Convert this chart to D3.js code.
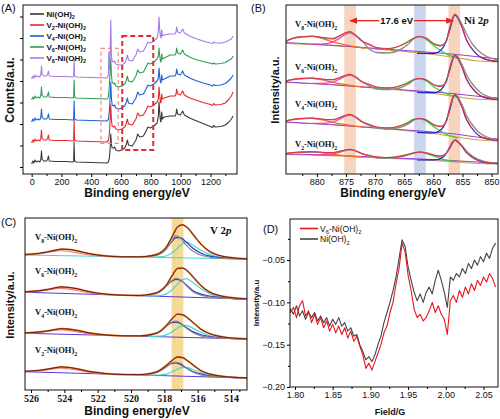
<!DOCTYPE html>
<html><head><meta charset="utf-8">
<script src="https://cdn.jsdelivr.net/npm/d3@7"></script>
<style>body{margin:0;background:#fff}svg{display:block}</style>
</head><body>
<svg id="c" width="500" height="419"></svg>
<script>
// ================= DATA =================
// Panel A: XPS survey (offset spectra)
const gridA = [0,8,15,22,30,42,55,62,66,70,80,100,108,113,118,160,230,278,282,285,288,300,400,505,515,518,522,527,531,535,540,550,557,565,585,605,625,636,642,650,675,700,712,725,750,768,780,795,820,842,850,855,859,864,868,873,877,890,930,962,969,973,980,998,1006,1013,1025,1060,1100,1150,1200,1214,1222,1232,1270,1300,1320,1340,1352];
const seriesA = ["Ni(OH)2","V2-Ni(OH)2","V4-Ni(OH)2","V6-Ni(OH)2","V8-Ni(OH)2"];
const offsetsA = [12, 33, 54, 76, 97];
const hNi = [-2,1,-1,2,0, 1,0,3,11,3, 1,1,3,6,1, 0.5,0.5,0,1,20, 1,0,-0.5,-1,0, 2,4,14,28,18, 14,14,15,12,11, 12,14,18,22,17, 16,22,28,25,26, 31,35,34,36,39, 46,60,50,41,40, 50,43,45,46,46, 48,53,48,47,49, 51,47,44,41.5,38.5, 35.5,34.5,36.5,35,35.5, 37,39.5,43,46];
const hV2 = [-2,1,-1,2,0, 1,0,3,11,3, 1,1,3,6,1, 0.5,0.5,0,1,21, 1,0,-0.5,-1,0.5, 3,8,22,36,22, 15,14,15,12,11, 12,14,18,22,17, 16,22,28,25,26, 31,35,34,36,39, 42,54,46,39,38, 47,42,43,45,45, 47,52,47,46,48, 50,46,43,41,38.5, 36.5,35.5,37.5,36,36.5, 38,41,45,49];
const hV4 = [-2,1,-1,2,0, 1,0,3,11,3, 1,1,3,6,1, 0.5,0.5,0,1,19, 1,0,-0.5,-1,0.5, 4,10,24,38,22, 15,14,15,12,11, 12,14,18,22,17, 16,22,28,25,26, 31,35,34,36,39, 42,52,44,38,37, 45,40,41,44,44, 46,51,46,45,47, 49,45,42,39.5,37, 35,34,35.5,34.5,35, 36.5,39,42,45];
const hV6 = [-2,1,-1,2,0, 1,0,3,11,3, 1,1,3,6,1, 0.5,0.5,0,1,18, 1,0,-0.5,-1,1, 6,14,28,40,24, 16,14,15,12,11, 12,14,18,22,17, 16,22,28,25,26, 31,35,34,36,39, 42,50,43,37,36, 44,39,40,43,43, 45,50,45,44,46, 48,44,41,38.5,36.5, 34.7,34,35,34,34.5, 35.5,37.5,39,42];
const hV8 = [-2,1,-1,2,0, 1,0,3,11,3, 1,1,3,6,1, 0.5,0.5,0,1,18, 1,0,-0.5,-1,2, 25,8,24,57,22, 16,15,16,13,12, 12,14,18,22,17, 16,22,28,25,26, 31,35,34,36,39, 46,60,48,40,39, 47,41,42,43,43, 45,50,45,44,46, 48,44,41,38.5,36, 34,33.5,35,34,34, 35,36.5,38,41];
const heightsA = [hNi, hV2, hV4, hV6, hV8];
const colorsA = ["#3a3a3a","#e42b2b","#1f5fd8","#2f9e50","#a67be6"];
const xTicksA = [0,200,400,600,800,1000,1200];
const xMinorA = [100,300,500,700,900,1100,1300];
const yTicksA = [7,28.5,50,71.5,93,114.5,136,157.5];
const boxSmallA = [465, 581, 30.7, 125.7];   // eV0, eV1, v0, v1
const boxBigA = [608, 816, 24, 138];

// Panel B: Ni 2p
const labelsB = ["8","6","4","2"];
const gridEnvB = [885.3,884.3,882.3,880.8,879.3,878.3,877.3,876.3,875.1,874.3,873.5,872.3,870.8,869.8,867.8,865.8,864.3,863.3,862.3,861.3,859.8,858.8,857.8,857.3,856.3,855.3,854.3,853.3,851.8,848.9];
const envB = [
 [132.9,135.5,137.4,138,136.8,136,135.6,137.9,141.3,142.3,139.5,133.2,129.5,126.5,125.5,128,132.2,136,137.4,135.8,129.7,128,132.1,143.7,159.5,149.9,134,124.5,116.8,112.5],
 [92.9,94.5,95.6,96,95.1,94.5,94.5,96.1,98.8,99.7,97.5,92.4,89.4,87.1,86.1,88,91.1,94.5,95.4,94.2,88.8,87.5,91.7,103.2,119.2,110,94.8,85.3,78.1,74.5],
 [52.9,54.5,55.6,56,55.1,54.5,54.5,56.1,58.8,59.7,57.5,52.4,49.4,47.1,46.1,48,51.1,54.5,55.4,54.1,48.7,47.3,51.8,63.4,79.6,70,54.4,44.9,37.3,33.5],
 [20.5,21.3,22,22.3,21.8,21.5,21.5,22.5,24.1,24.7,23.5,20.4,18.5,17,16.5,17.5,19.5,21.2,21.9,21.1,18.6,17.8,20.4,25.8,34,29.2,21.3,16.5,12.5,10.3]];
const rawB = [
 [132.6,135.2,137.1,137.6,136.4,135.5,135,137.2,140.8,142,139.6,133.5,124,121.5,121,124,130,135.5,137.6,136,130,128.5,132.5,144,159.8,152,140,130,121,114],
 [92.6,94.2,95.3,95.7,94.8,94.2,94.1,95.6,98.4,99.5,97.6,92.6,87.5,85,84.5,86,90,94.2,95.6,94.4,89.2,88,92,103.6,119.4,112,99,90,81,75],
 [52.6,54.2,55.3,55.7,54.8,54.2,54.1,55.6,58.4,59.5,57.6,52.6,48,46,45,46.5,50,54.2,55.6,54.3,49,47.7,52.2,63.8,79.8,72,58.5,49,40,34],
 [20.3,21.1,21.8,22,21.6,21.2,21.2,22.2,23.8,24.5,23.6,20.6,17.5,16.3,16,17,19.2,21,22,21.3,18.8,18,20.6,26,34.2,30,23,18,13.5,10.5]];
const gridMainB = [862.8,859.8,858.3,857.3,856.3,855.3,854.3,852.8,851.3,848.9];
const mainB = [[120.7,120.7,126.6,141.7,158.8,149.9,134,121.2,115.1,112.5],[81.7,81.3,86.9,101.6,118.6,110,94.8,82.4,76.6,74.5],[41.7,41.2,46.8,61.8,79,70,54.4,41.7,35.7,33.5],[14,14.1,17.1,24.8,33.5,29.2,21.3,14.9,11.6,10.3]];
const gridSatB = [869.8,866.8,864.8,863.3,862.3,861.3,859.8,857.8,855.8];
const satB = [[124.5,126,131,136,137.4,134.8,127.7,120.1,115.9],[85.5,86.5,90.5,94.5,95.4,93.2,86.8,80.2,76.6],[45.5,46.5,50.5,54.8,55.4,53.1,46.7,39.8,35.9],[16,16.8,19.2,21.2,21.9,20.6,17.6,13.9,12.1]];
const gridHalfB = [880.8,878.3,876.3,875.1,874.3,873.5,872.3,870.3,867.8];
const halfB = [[129.8,130.5,134.9,139.5,141.1,138.7,133,127.3,124],[90.7,90.9,94.2,97.7,98.9,97,92.3,87.8,84.9],[50.7,50.9,54.2,57.7,58.9,57,52.3,47.8,44.9],[19.1,19.3,21.4,23.6,24.4,23.2,20.3,17.4,15.8]];
const gridSat2B = [885.3,884.3,882.3,880.8,879.3,877.3,874.8,871.8];
const sat2B = [[132.9,135.5,137.4,137.5,135.8,132.1,128.9,125.6],[92.9,94.5,95.6,95.6,94.3,91.7,89.1,86.5],[52.9,54.5,55.6,55.6,54.3,51.7,49.1,46.5],[20.5,21.3,22,22,21.3,19.7,18.1,16.6]];
const gridBaseB = [885.3,880,875,870,865,860,856,853,848.9];
const baseB = [[130.5,129.3,127.7,125,122.5,119.5,116.3,113.5,112],[91.5,90.3,88.5,86,83.5,80.5,77.3,75,74],[51.5,50.3,48.5,46,43.5,40.5,37,34.5,33],[19.5,18.8,17.8,16.3,15,13.5,12,10.7,10]];
const gridBg2B = [885.3,878,872,866,860,856,852,848.9];
const bg2B = [[131.5,129,126.5,124,121.5,119.5,117,115],[92,89.5,87,84.5,82,80,77.5,76],[52,49.5,47,44.5,42,39.8,36.5,35],[20,19,17.5,15.8,14.5,13.2,11.8,11]];
const xTicksB = [880,875,870,865,860,855,850];
const xMinorB = [882.5,877.5,872.5,867.5,862.5,857.5,852.5];
const bandsB = [[875.3,873.3,"#f5cfb6"],[863.3,861.3,"#c5d0ec"],[857.4,855.4,"#f5cfb6"]];
const arrowB = {from:874.3, to:856.6, textAt:866.3, v:153.3, gapL:869.3, gapR:863.3};

// Panel C: V 2p
const gridEnvC = [526.36,525.5,525,524.5,524.2,523.8,523.2,522.5,521.5,520.5,519.5,518.8,518.3,517.9,517.5,517.2,516.9,516.6,516.2,515.8,515.3,514.8,514.2,513.5,513.04];
const envC = [
 [135.5,136.7,138.1,139.9,140.8,140.7,139,136.3,134,133.2,133.2,134.2,136.6,142.5,154.3,163.2,165.2,162.1,153.9,145.8,138.7,135,132.8,131.6,131.2],
 [98.2,99.3,100.5,102.3,103.1,102.7,101.1,98.3,95.8,94.8,94.5,95.9,98.6,104.4,115.2,121.6,121.9,118.8,111.6,104.4,98.1,94.9,92.8,91.6,91.2],
 [57.1,58,59.1,60.6,61.3,61,59.5,57,55,54.2,54.1,55.5,58.3,64.1,71.9,75.8,75.2,72,66.4,60.7,56.5,54,52.4,51.5,51.1],
 [18.7,19.7,20.9,22.4,23.1,22.7,21.1,18.5,16.4,15.5,15.4,16.7,19.5,24.3,30.1,33,32.3,29.2,24,19.3,16.1,14.3,13.1,12.4,12.1]];
const gridCompC = [519,518.3,517.9,517.6,517.3,517.0,516.7,516.3,515.8,515.2,514.5,513.04];
const grayC = [[133.3,135.6,140.5,147.4,154.3,151.2,145.1,139,134.8,132.6,131.7,131],[94.8,97.6,103.4,108.8,111.6,110,104.8,98.6,94.9,92.9,91.9,91],[54.4,57.8,63.1,67.5,68.8,66.7,62.1,57.4,54.2,52.6,51.8,51],[15.6,18.5,22.8,26.7,28,26.4,22.2,18,15.1,13.6,12.9,12]];
const cyanC = [[132.8,133.1,134,136.4,140.3,145.2,148.1,145,139.8,135.1,132.4,131.2],[94,94.4,95.9,99.3,104.1,109,111.3,107.6,101.4,95.6,92.7,91.2],[53.6,53.8,55.1,57.5,60.8,63.7,64.6,61.9,57.7,53.9,52.2,51.1],[14.8,15,15.8,17.7,20,22.4,22.7,20.5,17.3,14.5,13.2,12.1]];
const blueC = [[133.8,136.6,141.5,147.4,152.3,152.2,148.1,142,136.8,133.6,132.2,131.2],[95.2,98.6,103.9,108.3,110.6,109.5,105.3,99.6,95.9,93.6,92.2,91.1],[54.8,58.3,63.6,67,67.8,66.2,62.6,58.4,55.2,53.1,52,51.1],[15.8,19,23.3,26.2,27,25.4,22.2,18.5,15.8,14,13.1,12.1]];
const gridHalfC = [526.36,525.5,525,524.5,524.2,523.8,523.2,522.5,521.5];
const halfC = [[135.3,136.2,137.6,138.9,139.3,138.7,137,135,133.7],[98,98.8,100,101.3,101.6,101.1,99.3,97.1,95.5],[57,57.6,58.6,59.7,60,59.6,58.1,56.1,54.8],[18.6,19.2,20.3,21.4,21.8,21.3,19.8,17.7,16.2]];
const gridBaseC = [526.36,513.04];
const baseC = [[135,131],[97.7,91],[56.7,51],[18.3,12]];
const xTicksC = [526,524,522,520,518,516,514];
const xMinorC = [525,523,521,519,517,515,513.5];
const bandC = [517.56,516.86];

// Panel D: EPR
const fieldD = [1.790,1.794,1.798,1.802,1.806,1.810,1.814,1.818,1.822,1.826,1.830,1.834,1.838,1.842,1.846,1.850,1.854,1.858,1.862,1.866,1.870,1.874,1.878,1.882,1.886,1.890,1.894,1.898,1.902,1.906,1.910,1.914,1.918,1.922,1.926,1.930,1.934,1.938,1.942,1.946,1.950,1.954,1.958,1.962,1.966,1.970,1.974,1.978,1.982,1.986,1.990,1.994,1.998,2.002,2.006,2.010,2.014,2.018,2.022,2.026,2.030,2.034,2.038,2.042,2.046,2.050,2.054,2.058,2.062,2.066];
const eprV6 = [-0.104,-0.112,-0.106,-0.118,-0.104,-0.098,-0.116,-0.110,-0.124,-0.114,-0.126,-0.118,-0.130,-0.122,-0.134,-0.126,-0.136,-0.128,-0.138,-0.130,-0.142,-0.134,-0.146,-0.140,-0.152,-0.162,-0.178,-0.172,-0.180,-0.170,-0.160,-0.150,-0.136,-0.128,-0.112,-0.100,-0.078,-0.060,-0.030,-0.040,-0.068,-0.086,-0.108,-0.118,-0.114,-0.122,-0.118,-0.110,-0.100,-0.112,-0.104,-0.114,-0.120,-0.138,-0.098,-0.092,-0.100,-0.086,-0.094,-0.082,-0.090,-0.078,-0.086,-0.074,-0.080,-0.070,-0.076,-0.066,-0.072,-0.082];
const eprNi = [-0.116,-0.108,-0.114,-0.104,-0.116,-0.110,-0.120,-0.112,-0.118,-0.112,-0.122,-0.116,-0.124,-0.118,-0.128,-0.120,-0.126,-0.118,-0.128,-0.124,-0.134,-0.130,-0.140,-0.138,-0.150,-0.158,-0.168,-0.164,-0.170,-0.162,-0.150,-0.140,-0.124,-0.112,-0.100,-0.086,-0.070,-0.048,-0.026,-0.034,-0.058,-0.074,-0.088,-0.098,-0.090,-0.100,-0.088,-0.082,-0.090,-0.074,-0.062,-0.074,-0.088,-0.106,-0.070,-0.074,-0.066,-0.070,-0.060,-0.066,-0.054,-0.060,-0.050,-0.056,-0.046,-0.052,-0.042,-0.048,-0.036,-0.030];
const xTicksD = [1.80,1.85,1.90,1.95,2.00,2.05];
const xMinorD = [1.825,1.875,1.925,1.975,2.025];
const yTicksD = [-0.20,-0.15,-0.10,-0.05];
const yMinorD = [-0.175,-0.125,-0.075,-0.025];

// ================= DRAWING =================
const SANS = 'Arial, "Liberation Sans", sans-serif';
const SERIF = '"Liberation Serif", "Times New Roman", serif';
const svg = d3.select('#c');

function rich(g, x, y, parts, size, o = {}) {
  const t = g.append('text').attr('x', x).attr('y', y).attr('font-size', size)
    .attr('font-family', o.family || SANS).attr('font-weight', o.weight || 'normal')
    .attr('fill', o.fill || '#111');
  if (o.anchor) t.attr('text-anchor', o.anchor);
  if (o.transform) t.attr('transform', o.transform);
  let sh = false; const d = size * 0.3;
  parts.forEach(p => {
    const [s, k] = Array.isArray(p) ? p : [p, ''];
    const ts = t.append('tspan').text(s);
    if (k === 'sub') { ts.attr('font-size', size * 0.68); if (!sh) ts.attr('dy', d); sh = true; }
    else { if (sh) ts.attr('dy', -d); sh = false; if (k === 'i') ts.attr('font-style', 'italic'); }
  });
  return t;
}
function nameParts(s) {
  const m = s.match(/^V(\d)-Ni\(OH\)2$/);
  if (m) return ['V', [m[1], 'sub'], '-Ni(OH)', ['2', 'sub']];
  return ['Ni(OH)', ['2', 'sub']];
}
function frame(g, x0, x1, y0, y1) {
  g.append('rect').attr('x', x0).attr('y', y0).attr('width', x1 - x0).attr('height', y1 - y0)
    .attr('fill', 'none').attr('stroke', '#111').attr('stroke-width', 1);
}
function xAxis(g, sc, y, major, minor, fmt, font) {
  const a = g.append('g').attr('transform', `translate(0,${y})`)
    .call(d3.axisBottom(sc).tickValues(major).tickSize(3).tickPadding(2).tickFormat(fmt));
  a.select('.domain').remove();
  a.selectAll('text').attr('font-size', font ? 10 : 9).attr('font-family', font || SANS)
    .attr('font-weight', font ? 'bold' : 'normal').attr('fill', '#111');
  if (minor) {
    const m = g.append('g').attr('transform', `translate(0,${y})`)
      .call(d3.axisBottom(sc).tickValues(minor).tickSize(2).tickFormat(''));
    m.select('.domain').remove();
  }
}
function yAxis(g, sc, x, major, minor, fmt) {
  const a = g.append('g').attr('transform', `translate(${x},0)`)
    .call(d3.axisLeft(sc).tickValues(major).tickSize(3).tickPadding(2).tickFormat(fmt));
  a.select('.domain').remove();
  a.selectAll('text').attr('font-size', 9).attr('font-family', SANS).attr('fill', '#111');
  if (minor) {
    const m = g.append('g').attr('transform', `translate(${x},0)`)
      .call(d3.axisLeft(sc).tickValues(minor).tickSize(2).tickFormat(''));
    m.select('.domain').remove();
  }
}
function title(g, x, y, txt, size, rot) {
  const t = g.append('text').attr('x', x).attr('y', y).attr('text-anchor', 'middle')
    .attr('font-family', SANS).attr('font-weight', 'bold').attr('font-size', size).attr('fill', '#111').text(txt);
  if (rot) t.attr('transform', `rotate(-90,${x},${y})`);
}
function clip(id, x0, x1, y0, y1) {
  svg.append('clipPath').attr('id', id).append('rect').attr('x', x0).attr('y', y0).attr('width', x1 - x0).attr('height', y1 - y0);
}
function path(g, xs, ys, sx, sy, color, w, curve) {
  const pts = xs.map((x, i) => [x, ys[i]]);
  g.append('path').datum(pts).attr('fill', 'none').attr('stroke', color).attr('stroke-width', w)
    .attr('stroke-linejoin', 'round')
    .attr('d', d3.line().x(d => sx(d[0])).y(d => sy(d[1])).curve(curve || d3.curveLinear));
}

// ---------- Panel A ----------
(function () {
  const L = 23, R = 237, T = 5, B = 174;
  const g = svg.append('g');
  const x = d3.scaleLinear().domain([-58, 1378]).range([L, R]);
  const y = d3.scaleLinear().domain([0, 169]).range([B, T]);
  clip('clipA', L, R, T, B);
  const pg = g.append('g').attr('clip-path', 'url(#clipA)');
  heightsA.forEach((h, i) => {
    path(pg, gridA, h.map(v => v + offsetsA[i]), x, y, colorsA[i], 1.1);
  });
  pg.append('rect').attr('x', x(boxSmallA[0])).attr('y', y(boxSmallA[3]))
    .attr('width', x(boxSmallA[1]) - x(boxSmallA[0])).attr('height', y(boxSmallA[2]) - y(boxSmallA[3]))
    .attr('fill', 'none').attr('stroke', '#f08a8a').attr('stroke-width', 1.2).attr('stroke-dasharray', '4,3');
  pg.append('rect').attr('x', x(boxBigA[0])).attr('y', y(boxBigA[3]))
    .attr('width', x(boxBigA[1]) - x(boxBigA[0])).attr('height', y(boxBigA[2]) - y(boxBigA[3]))
    .attr('fill', 'none').attr('stroke', '#e42b2b').attr('stroke-width', 2).attr('stroke-dasharray', '5,3');
  frame(g, L, R, T, B);
  xAxis(g, x, B, xTicksA, xMinorA, d3.format('d'));
  yAxis(g, y, L, yTicksA, null, '');
  seriesA.forEach((s, i) => {
    const yy = 14 + i * 11;
    g.append('line').attr('x1', 30).attr('x2', 44).attr('y1', yy).attr('y2', yy).attr('stroke', colorsA[i]).attr('stroke-width', 1.6);
    rich(g, 46.5, yy + 3, nameParts(s), 8, { weight: 'bold' });
  });
  title(g, 137, 197, 'Binding energy/eV', 12);
  title(g, 14, 90, 'Counts/a.u.', 12, true);
  g.append('text').attr('x', 1).attr('y', 12).attr('font-family', SANS).attr('font-size', 11).attr('fill', '#111').text('(A)');
})();

// ---------- Panel B ----------
(function () {
  const L = 286, R = 498, T = 5, B = 174;
  const g = svg.append('g');
  const x = d3.scaleLinear().domain([885.3, 848.9]).range([L, R]);
  const y = d3.scaleLinear().domain([0, 169]).range([B, T]);
  clip('clipB', L, R, T, B);
  const pg = g.append('g').attr('clip-path', 'url(#clipB)');
  bandsB.forEach(b => {
    pg.append('rect').attr('x', x(b[0])).attr('y', T).attr('width', x(b[1]) - x(b[0])).attr('height', B - T)
      .attr('fill', b[2]).attr('opacity', 0.9);
  });
  const cv = d3.curveMonotoneX;
  labelsB.forEach((lab, i) => {
    path(pg, gridBaseB, baseB[i], x, y, '#c9a449', 1.1, cv);
    path(pg, gridBg2B, bg2B[i], x, y, '#9b3fd4', 1.0, cv);
    path(pg, gridSat2B, sat2B[i], x, y, '#ff6a10', 1.2, cv);
    path(pg, gridHalfB, halfB[i], x, y, '#ff3fa8', 1.2, cv);
    path(pg, gridSatB, satB[i], x, y, '#2fd82f', 1.2, cv);
    path(pg, gridMainB, mainB[i], x, y, '#1d22c8', 1.2, cv);
    path(pg, gridEnvB, rawB[i], x, y, '#8c8c8c', 1.4, cv);
    path(pg, gridEnvB, envB[i], x, y, '#ee2a3a', 1.0, cv);
  });
  const ay = y(arrowB.v);
  const defs = svg.append('defs');
  defs.append('marker').attr('id', 'arr').attr('viewBox', '0 0 10 10').attr('refX', 9).attr('refY', 5)
    .attr('markerWidth', 6).attr('markerHeight', 6).attr('orient', 'auto-start-reverse')
    .append('path').attr('d', 'M0,1 L10,5 L0,9 Z').attr('fill', '#e3231f');
  g.append('line').attr('x1', x(arrowB.gapL)).attr('x2', x(arrowB.from)).attr('y1', ay).attr('y2', ay)
    .attr('stroke', '#e3231f').attr('stroke-width', 1.3).attr('marker-end', 'url(#arr)');
  g.append('line').attr('x1', x(arrowB.gapR)).attr('x2', x(arrowB.to)).attr('y1', ay).attr('y2', ay)
    .attr('stroke', '#e3231f').attr('stroke-width', 1.3).attr('marker-end', 'url(#arr)');
  g.append('text').attr('x', x(arrowB.textAt)).attr('y', ay + 3.5).attr('text-anchor', 'middle')
    .attr('font-family', SANS).attr('font-weight', 'bold').attr('font-size', 9.5).attr('fill', '#111').text('17.6 eV');
  rich(g, 464, 24, ['Ni 2', ['p', 'i']], 11, { family: SERIF, weight: 'bold' });
  const ly = [27, 70, 107, 147];
  labelsB.forEach((lab, i) => rich(g, 295, ly[i], ['V', [lab, 'sub'], '-Ni(OH)', ['2', 'sub']], 8.5, { family: SERIF, weight: 'bold' }));
  frame(g, L, R, T, B);
  xAxis(g, x, B, xTicksB, xMinorB, d3.format('d'));
  title(g, 393, 197, 'Binding energy/eV', 12);
  title(g, 279, 90, 'Intensity/a.u.', 11, true);
  g.append('text').attr('x', 251).attr('y', 12).attr('font-family', SANS).attr('font-size', 11).attr('fill', '#111').text('(B)');
})();

// ---------- Panel C ----------
(function () {
  const L = 25, R = 247, T = 218, B = 390;
  const g = svg.append('g');
  const x = d3.scaleLinear().domain([526.36, 513.04]).range([L, R]);
  const y = d3.scaleLinear().domain([0, 172]).range([B, T]);
  clip('clipC', L, R, T, B);
  const pg = g.append('g').attr('clip-path', 'url(#clipC)');
  pg.append('rect').attr('x', x(bandC[0])).attr('y', T).attr('width', x(bandC[1]) - x(bandC[0])).attr('height', B - T)
    .attr('fill', '#f6d58c').attr('opacity', 0.9);
  const cv = d3.curveMonotoneX;
  labelsB.forEach((lab, i) => {
    path(pg, gridBaseC, baseC[i], x, y, i === 0 ? '#45d6d6' : '#5a3ad6', 1.1);
    path(pg, gridHalfC, halfC[i], x, y, '#f08080', 1.1, cv);
    path(pg, gridCompC, cyanC[i], x, y, '#45d9d2', 1.2, cv);
    path(pg, gridCompC, blueC[i], x, y, '#2a2ad0', 1.2, cv);
    path(pg, gridCompC, grayC[i], x, y, '#8a8a8a', 1.2, cv);
    path(pg, gridEnvC, envC[i], x, y, '#e07a2a', 1.8, cv);
    path(pg, gridEnvC, envC[i], x, y, '#5a0f12', 0.9, cv);
  });
  rich(g, 210, 234, ['V 2', ['p', 'i']], 11, { family: SERIF, weight: 'bold' });
  const ly = [240, 274, 315, 353];
  labelsB.forEach((lab, i) => rich(g, 35, ly[i], ['V', [lab, 'sub'], '-Ni(OH)', ['2', 'sub']], 8.5, { family: SERIF, weight: 'bold' }));
  frame(g, L, R, T, B);
  xAxis(g, x, B, xTicksC, xMinorC, d3.format('d'), SERIF);
  title(g, 137, 415, 'Binding energy/eV', 12);
  title(g, 14, 305, 'Intensity/a.u.', 11, true);
  g.append('text').attr('x', 1).attr('y', 226).attr('font-family', SANS).attr('font-size', 11).attr('fill', '#111').text('(C)');
})();

// ---------- Panel D ----------
(function () {
  const L = 290, R = 498, T = 219, B = 387;
  const g = svg.append('g');
  const x = d3.scaleLinear().domain([1.7934, 2.0692]).range([L, R]);
  const y = d3.scaleLinear().domain([-0.2, -0.0015]).range([B, T]);
  clip('clipD', L, R, T, B);
  const pg = g.append('g').attr('clip-path', 'url(#clipD)');
  path(pg, fieldD, eprNi, x, y, '#444444', 1.1);
  path(pg, fieldD, eprV6, x, y, '#e8141c', 1.1);
  frame(g, L, R, T, B);
  xAxis(g, x, B, xTicksD, xMinorD, d3.format('.2f'));
  yAxis(g, y, L, yTicksD, yMinorD, d3.format('.2f'));
  g.append('line').attr('x1', 300).attr('x2', 318).attr('y1', 228.5).attr('y2', 228.5).attr('stroke', '#e8141c').attr('stroke-width', 1.6);
  rich(g, 320, 231.5, nameParts('V6-Ni(OH)2'), 8.5);
  g.append('line').attr('x1', 300).attr('x2', 318).attr('y1', 239).attr('y2', 239).attr('stroke', '#444').attr('stroke-width', 1.6);
  rich(g, 320, 242, nameParts('Ni(OH)2'), 8.5);
  title(g, 390, 415, 'Field/G', 9);
  title(g, 259, 303, 'Intensity/a.u', 8, true);
  g.append('text').attr('x', 263).attr('y', 233).attr('font-family', SANS).attr('font-size', 11).attr('fill', '#111').text('(D)');
})();
</script>
</body></html>
